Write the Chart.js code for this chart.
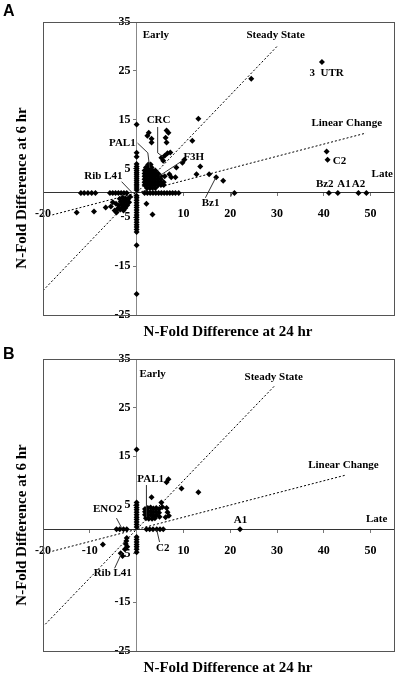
<!DOCTYPE html>
<html>
<head>
<meta charset="utf-8">
<script src="https://cdn.jsdelivr.net/npm/chart.js@4.4.1/dist/chart.umd.min.js"></script>
<style>
  body { margin: 0; width: 400px; height: 675px; position: relative; background: #fff; overflow: hidden; }
  .box { position: absolute; left: 0; width: 400px; }
  .txt { position: absolute; font-family: 'Liberation Serif', 'Times New Roman', serif; font-weight: bold; font-size: 15px; line-height: 15px; white-space: nowrap; color: #000; }
  .panel { position: absolute; font-family: 'Liberation Sans', Arial, sans-serif; font-weight: bold; font-size: 16px; line-height: 16px; }
  .ytitle { transform: translate(-50%, -50%) rotate(-90deg); }
  .xtitle { transform: translateX(-50%); }
</style>
</head>
<body>
<div class="box" style="top:0;height:337px"><canvas id="chartA"></canvas></div>
<div class="box" style="top:337px;height:338px"><canvas id="chartB"></canvas></div>

<div class="panel" style="left:3px;top:3px">A</div>
<div class="panel" style="left:3px;top:346px">B</div>
<div class="txt ytitle" style="left:21px;top:188px">N-Fold Difference at 6 hr</div>
<div class="txt ytitle" style="left:21px;top:525px">N-Fold Difference at 6 hr</div>
<div class="txt xtitle" style="left:228px;top:324px">N-Fold Difference at 24 hr</div>
<div class="txt xtitle" style="left:228px;top:660px">N-Fold Difference at 24 hr</div>

<script>
// axes
const yTicks = [-25, -15, -5, 5, 15, 25, 35];
const xTicksA = [-20, 10, 20, 30, 40, 50];
const xTicksB = [-20, -10, 10, 20, 30, 40, 50];

// reference lines (6 hr = 24 hr, 6 hr = 24 hr / 4)
const steadyA = [[-20, -20], [30, 30]];
const linearA = [[-18, -4.5], [49, 12.25]];
const steadyB = [[-19.5, -19.5], [29.5, 29.5]];
const linearB = [[-18, -4.5], [44.5, 11.1]];

// panel A - points on the axes
const aOnY = [14, 8.2, 7.4, 5.9, 5.4, 5, 4.6, 4.2, 3.8, 3.4, 3, 2.6, 2.2, 1.8, 1.4, 1, 0.6,
  -0.6, -1, -1.5, -2, -2.5, -3, -3.5, -4, -4.5, -5, -5.5, -6, -6.5, -7, -7.5, -8, -10.7, -20.7];
const aOnX = [-11.9, -11.2, -10.4, -9.6, -8.8, -5.7, -5.1, -4.5, -3.9, -3.3, -2.7, -2.1,
  1.7, 2.3, 2.9, 3.5, 4.1, 4.7, 5.3, 5.9, 6.5, 7.1, 7.7, 8.3, 9, 20.9, 41.1, 43, 47.4, 49.1];
// panel A - PAL1 cluster
const aCluster = [[2.5, 5.8], [3, 5.8], [2, 5.2], [2.6, 5.2], [3.2, 5.2], [1.7, 4.6], [2.2, 4.6], [2.8, 4.6],
  [3.4, 4.6], [4, 4.6], [1.7, 4], [2.2, 4], [2.8, 4], [3.4, 4], [4, 4], [4.6, 4], [1.7, 3.4], [2.2, 3.4],
  [2.8, 3.4], [3.4, 3.4], [4, 3.4], [4.6, 3.4], [5.2, 3.4], [1.7, 2.8], [2.2, 2.8], [2.8, 2.8], [3.4, 2.8],
  [4, 2.8], [4.6, 2.8], [5.2, 2.8], [1.7, 2.2], [2.2, 2.2], [2.8, 2.2], [3.4, 2.2], [4, 2.2], [4.6, 2.2],
  [5.2, 2.2], [5.8, 2.2], [1.7, 1.6], [2.2, 1.6], [2.8, 1.6], [3.4, 1.6], [4, 1.6], [4.6, 1.6], [5.2, 1.6],
  [5.8, 1.6], [2.2, 1], [2.8, 1], [3.4, 1], [4, 1]];
// panel A - other genes
const aOther = [[2.6, 12.3], [2.3, 11.7], [3.2, 11.1], [3.2, 10.3], [6.4, 12.8], [6.8, 12.3], [6.2, 11.3],
  [6.4, 10.3], [13.2, 15.2], [11.9, 10.7], [5.3, 7.2], [6, 7.6], [6.6, 8.1], [7.2, 8.3], [5.7, 6.6],
  [9.8, 6.2], [10.2, 6.8], [8.5, 5.2], [7.4, 3.2], [6, 3.4], [7, 3.8], [8.3, 3.2], [12.8, 3.8], [13.6, 5.4],
  [24.5, 23.4], [39.6, 26.8], [40.6, 8.5], [40.8, 6.8], [15.5, 3.8], [17, 3.2], [18.5, 2.5],
  [-12.8, -4], [-9.1, -3.8], [-6.6, -3], [-5.5, -2.8], [-4.7, -3.6], [-4.3, -4], [-5.1, -1.9],
  [-3.6, -1.2], [-3, -1], [-2.4, -1.1], [-1.8, -1.2], [-3.4, -1.8], [-2.8, -1.7], [-2.2, -1.8],
  [-1.6, -1.9], [-3.2, -2.4], [-2.6, -2.4], [-2, -2.5], [-3.8, -2.6], [-3, -3], [-2.4, -3.1],
  [-3.5, -3.4], [-4, -3.2], [-2.8, -3.6], [-4.4, -2.2], [-1.4, -0.8], [2.1, -2.2], [3.4, -4.4]];

// panel B
const bOnY = [16.4, 5.5, 5, 4.5, 4, 3.5, 3, 2.5, 2, 1.5, 1, 0.5, -1.6, -2.1, -2.6, -3.1, -3.6, -4.1, -4.7];
const bOnX = [-4.3, -3.6, -2.8, -2.1, 2.1, 2.8, 3.5, 4.3, 5, 5.7, 22.1];
const bCluster = [[1.8, 4.2], [2.4, 4.4], [3, 4.5], [3.6, 4.3], [4.2, 4.4], [4.8, 4.2], [1.8, 3.6], [2.4, 3.6],
  [3, 3.7], [3.6, 3.5], [4.2, 3.6], [4.8, 3.4], [1.8, 3], [2.4, 2.9], [3, 3], [3.6, 2.8], [4.2, 2.9],
  [4.9, 2.6], [2, 2.3], [2.6, 2.2], [3.3, 2.2], [3.9, 2.3], [5.5, 4.6], [6.4, 4.4], [6.6, 3.5], [6.2, 2.5], [6.9, 2.8]];
const bOther = [[6.4, 9.7], [6.8, 10.3], [9.6, 8.4], [13.2, 7.6], [3.2, 6.6], [5.3, 5.5], [-7.2, -3.1],
  [-2.1, -1.8], [-2.2, -2.4], [-2.3, -3], [-2, -3.6], [-2.5, -4.1], [-3.4, -4.9], [-3, -5.5]];

// text labels: [text, x, y, align]
const labelsA = [['Early', 1.3, 32.3, 'left'], ['Steady State', 29.7, 32.3, 'center'], ['3  UTR', 40.6, 24.6, 'center'],
  ['Linear Change', 44.9, 14.3, 'center'], ['C2', 41.9, 6.5, 'left'], ['Late', 52.5, 3.9, 'center'],
  ['Bz2', 40.2, 1.8, 'center'], ['A1', 44.3, 1.8, 'center'], ['A2', 47.4, 1.8, 'center'],
  ['Bz1', 15.8, -2.0, 'center'], ['CRC', 4.7, 14.8, 'center'], ['PAL1', -0.2, 10.1, 'right'],
  ['F3H', 10.0, 7.4, 'left'], ['Rib L41', -7.1, 3.4, 'center']];
const leadersA = [[[4.5, 13.5], [4.5, 8.2], [5.6, 7.4]], [[0.2, 10.2], [2.4, 8.2], [2.8, 5.1]],
  [[9.8, 6.6], [4.9, 3.5]], [[-3.2, 2.3], [-1.1, 0.2]], [[14.7, -1.0], [16.9, 3.1]], [[20.1, -0.8], [20.5, 0.2]]];
const labelsB = [['Early', 0.6, 31.9, 'left'], ['Steady State', 29.3, 31.3, 'center'], ['Linear Change', 44.2, 13.2, 'center'],
  ['PAL1', 3.0, 10.4, 'center'], ['ENO2', -6.2, 4.1, 'center'], ['C2', 5.6, -3.9, 'center'],
  ['Rib L41', -5.1, -9.1, 'center'], ['A1', 22.2, 1.9, 'center'], ['Late', 51.3, 2.0, 'center']];
const leadersB = [[[2.1, 9.1], [2.1, 2.5]], [[-4.3, 2.3], [-3.2, 0.3]], [[4.9, -2.6], [4.3, -0.1]], [[-4.7, -8.0], [-3.2, -4.9]]];

const serif = "'Liberation Serif', 'Times New Roman', serif";
const toXY = p => ({ x: p[0], y: p[1] });

const notes = {
  id: 'notes',
  afterDatasetsDraw(chart, args, opts) {
    const { ctx, chartArea, scales: { x, y } } = chart;
    ctx.save();
    // frame
    ctx.strokeStyle = '#555';
    ctx.lineWidth = 1;
    ctx.strokeRect(Math.round(chartArea.left) + 0.5, Math.round(chartArea.top) + 0.5,
      Math.round(chartArea.width), Math.round(chartArea.height));
    // leader lines
    ctx.strokeStyle = '#333';
    opts.leaders.forEach(l => {
      ctx.beginPath();
      l.forEach((p, i) => {
        const px = x.getPixelForValue(p[0]), py = y.getPixelForValue(p[1]);
        i ? ctx.lineTo(px, py) : ctx.moveTo(px, py);
      });
      ctx.stroke();
    });
    // labels
    ctx.fillStyle = '#000';
    ctx.font = 'bold 11px ' + serif;
    ctx.textBaseline = 'middle';
    opts.labels.forEach(l => {
      ctx.textAlign = l[3];
      ctx.fillText(l[0], x.getPixelForValue(l[1]), y.getPixelForValue(l[2]));
    });
    ctx.restore();
  }
};

function makeChart(id, pts, steady, linear, xTicks, labels, leaders, padTop, padBottom) {
  const ctx = document.getElementById(id).getContext('2d');
  const lineSet = d => ({
    type: 'line', data: d.map(toXY), borderColor: '#000', borderWidth: 1, borderDash: [2, 2],
    pointRadius: 0, fill: false
  });
  return new Chart(ctx, {
    type: 'scatter',
    data: {
      datasets: [
        lineSet(steady),
        lineSet(linear),
        {
          data: pts.map(toXY), pointStyle: 'rectRot', pointRadius: 3,
          backgroundColor: '#000', borderColor: '#000', borderWidth: 0
        }
      ]
    },
    options: {
      responsive: true, maintainAspectRatio: false, animation: false,
      layout: { padding: { left: 43, right: 6, top: padTop, bottom: padBottom } },
      plugins: { legend: { display: false }, tooltip: { enabled: false }, notes: { labels, leaders } },
      scales: {
        x: {
          type: 'linear', min: -20, max: 55, position: { y: 0 },
          afterFit: s => { s.height = 0; },
          afterBuildTicks: s => { s.ticks = xTicks.map(v => ({ value: v })); },
          grid: { drawOnChartArea: false, tickLength: 3, color: '#777' },
          border: { color: '#333' },
          ticks: { color: '#000', padding: 11, autoSkip: false, maxRotation: 0, font: { family: serif, weight: 'bold', size: 12 } }
        },
        y: {
          type: 'linear', min: -25, max: 35, position: { x: 0 },
          afterFit: s => { s.width = 0; },
          afterBuildTicks: s => { s.ticks = yTicks.map(v => ({ value: v })); },
          grid: { drawOnChartArea: false, tickLength: 3, color: '#777' },
          border: { color: '#888' },
          ticks: {
            color: '#000', autoSkip: false, font: { family: serif, weight: 'bold', size: 12 },
            callback: v => v + '  '
          }
        }
      }
    },
    plugins: [notes]
  });
}

const ptsA = aOnY.map(v => [0, v]).concat(aOnX.map(v => [v, 0]), aCluster, aOther);
const ptsB = bOnY.map(v => [0, v]).concat(bOnX.map(v => [v, 0]), bCluster, bOther);

makeChart('chartA', ptsA, steadyA, linearA, xTicksA, labelsA, leadersA, 22, 22);
makeChart('chartB', ptsB, steadyB, linearB, xTicksB, labelsB, leadersB, 22, 24);
</script>
</body>
</html>
